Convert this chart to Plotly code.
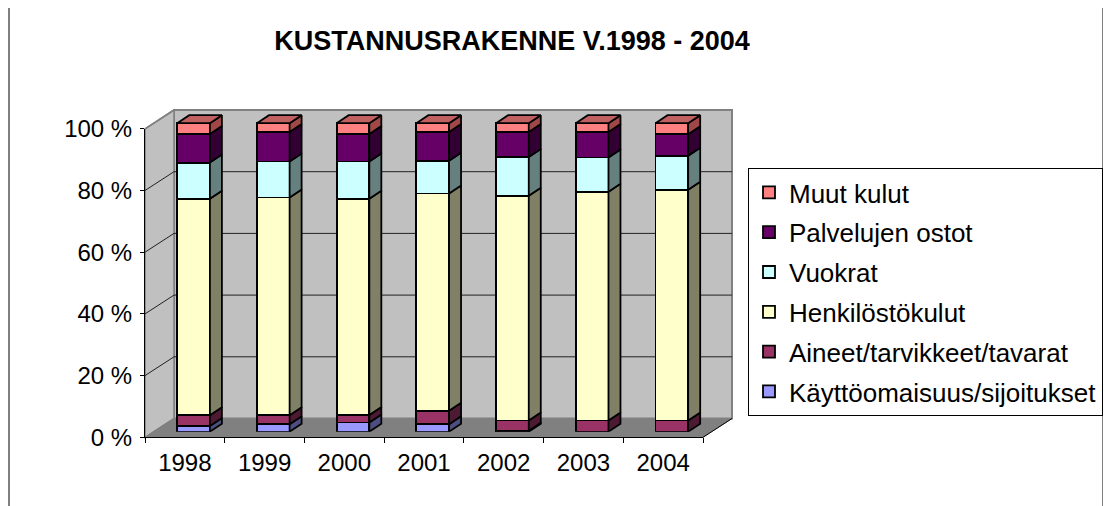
import plotly.graph_objects as go
import numpy as np

# ---------------- data ----------------
years = ["1998", "1999", "2000", "2001", "2002", "2003", "2004"]
kaytto = [1.8, 2.4, 3.0, 2.4, 0.3, 0.0, 0.0]          # Käyttöomaisuus/sijoitukset
aineet = [3.5, 2.9, 2.4, 4.4, 3.3, 3.6, 3.6]          # Aineet/tarvikkeet/tavarat
henk = [70.3, 70.6, 70.1, 70.4, 72.9, 74.2, 74.8]     # Henkilöstökulut
vuokrat = [11.7, 11.7, 12.1, 10.6, 12.5, 11.1, 11.0]  # Vuokrat
palvelut = [9.3, 9.5, 8.9, 9.3, 8.1, 8.2, 7.0]        # Palvelujen ostot
muut = [3.5, 2.9, 3.5, 2.9, 2.9, 2.9, 3.6]            # Muut kulut
y_ticks = [0, 20, 40, 60, 80, 100]

series = [
    ("Käyttöomaisuus/sijoitukset", kaytto, "#9999FF", "#4D4D80"),
    ("Aineet/tarvikkeet/tavarat", aineet, "#993366", "#4D1A33"),
    ("Henkilöstökulut", henk, "#FFFFCC", "#808066"),
    ("Vuokrat", vuokrat, "#CCFFFF", "#668080"),
    ("Palvelujen ostot", palvelut, "#660066", "#330033"),
    ("Muut kulut", muut, "#FF8080", "#A04848"),
]
TOP_FACE = "#C06060"

# ---------------- geometry (screen pixels) ----------------
OFF = 8                      # page body margin
W, H = 1111 - OFF, 506 - OFF
def fx(p): return (p - OFF) / W
def fy(p): return 1 - (p - OFF) / H

FX0, FX1 = 145, 703          # front plane x extent
FY0 = 437.3                  # front plane 0 %
S = 3.085                    # px per percent
DDX, DDY = 29, 18.8          # full depth offset
BX0, BX1 = FX0 + DDX, FX1 + DDX
BY0 = FY0 - DDY
BY100 = BY0 - 100 * S
FY100 = FY0 - 100 * S

bar_off_x, bar_off_y = 0.3 * DDX, 0.3 * DDY
bar_w = 0.41
cat_px = (FX1 - FX0) / len(years)
side_dx = 12 / cat_px
side_dy = 8 / S
ymax_main = 104

font_fam = "Liberation Sans, Arial, sans-serif"

fig = go.Figure()
xpos = np.arange(len(years))

totals = np.sum([np.array(s[1]) for s in series], axis=0)
cum = np.zeros(len(years))
side_traces = []
n = len(series)
for k, (name, vals, col, side) in enumerate(series):
    v = np.array(vals) / totals * 100
    fig.add_trace(go.Bar(
        x=xpos, y=v, name=name, width=bar_w, legendgroup=name,
        legendrank=n - k,
        marker=dict(color=col, line=dict(color="black", width=1.8)),
        xaxis="x", yaxis="y",
    ))
    px_, py_ = [], []
    for i in range(len(years)):
        if v[i] <= 0:
            continue
        b, t = cum[i], cum[i] + v[i]
        xl = xpos[i] + bar_w / 2
        xr = xl + side_dx
        px_ += [xl, xr, xr, xl, xl, None]
        py_ += [b, b + side_dy, t + side_dy, t, b, None]
    side_traces.append(go.Scatter(
        x=px_, y=py_, mode="lines", fill="toself", fillcolor=side,
        line=dict(color="black", width=1.8), showlegend=False,
        hoverinfo="skip", xaxis="x", yaxis="y",
    ))
    cum = cum + v

# top faces
tx, ty = [], []
for i in range(len(years)):
    t = cum[i]
    xl = xpos[i] - bar_w / 2
    xr = xpos[i] + bar_w / 2
    tx += [xl, xl + side_dx, xr + side_dx, xr, xl, None]
    ty += [t, t + side_dy, t + side_dy, t, t, None]
for tr in side_traces:
    fig.add_trace(tr)
fig.add_trace(go.Scatter(
    x=tx, y=ty, mode="lines", fill="toself", fillcolor=TOP_FACE,
    line=dict(color="black", width=1.8), showlegend=False,
    hoverinfo="skip", xaxis="x", yaxis="y",
))

# axis-carrying trace (front plane)
fig.add_trace(go.Scatter(x=years, y=[None] * len(years), xaxis="x2", yaxis="y2",
                         showlegend=False, hoverinfo="skip", mode="markers"))

# ---------------- walls & gridlines ----------------
shapes = []
# outer chart border
shapes.append(dict(type="rect", xref="paper", yref="paper",
                   x0=fx(9), x1=fx(1103), y0=fy(560), y1=fy(2),
                   line=dict(color="black", width=1), layer="below"))
# back wall
shapes.append(dict(type="rect", xref="paper", yref="paper",
                   x0=fx(BX0), x1=fx(BX1), y0=fy(BY0), y1=fy(BY100),
                   fillcolor="#C0C0C0", line=dict(color="#808080", width=2), layer="below"))
# side wall
shapes.append(dict(type="path", xref="paper", yref="paper",
                   path=f"M {fx(FX0)},{fy(FY0)} L {fx(FX0)},{fy(FY100)} L {fx(BX0)},{fy(BY100)} L {fx(BX0)},{fy(BY0)} Z",
                   fillcolor="#C0C0C0", line=dict(color="#808080", width=1.5), layer="below"))
# floor
shapes.append(dict(type="path", xref="paper", yref="paper",
                   path=f"M {fx(FX0)},{fy(FY0)} L {fx(FX1)},{fy(FY0)} L {fx(BX1)},{fy(BY0)} L {fx(BX0)},{fy(BY0)} Z",
                   fillcolor="#808080", line=dict(color="#808080", width=1), layer="below"))
# floor front-right edge
shapes.append(dict(type="line", xref="paper", yref="paper",
                   x0=fx(FX1), y0=fy(FY0), x1=fx(BX1), y1=fy(BY0),
                   line=dict(color="black", width=1), layer="below"))
for v in y_ticks:
    if v in (0, 100):
        continue
    yf = FY0 - v * S
    yb = BY0 - v * S
    shapes.append(dict(type="line", xref="paper", yref="paper",
                       x0=fx(FX0), y0=fy(yf), x1=fx(BX0), y1=fy(yb),
                       line=dict(color="#202020", width=1), layer="below"))
    shapes.append(dict(type="line", xref="paper", yref="paper",
                       x0=fx(BX0), y0=fy(yb), x1=fx(BX1), y1=fy(yb),
                       line=dict(color="#202020", width=1), layer="below"))
# top-left edge of side wall
shapes.append(dict(type="line", xref="paper", yref="paper",
                   x0=fx(FX0), y0=fy(FY100), x1=fx(BX0), y1=fy(BY100),
                   line=dict(color="#808080", width=1.5), layer="below"))

fig.update_layout(
    width=W, height=H,
    margin=dict(l=0, r=0, t=0, b=0, autoexpand=False),
    paper_bgcolor="white", plot_bgcolor="rgba(0,0,0,0)",
    barmode="stack",
    font=dict(family=font_fam, color="black", size=24),
    title=dict(text="<b>KUSTANNUSRAKENNE V.1998 - 2004</b>", x=fx(512), xref="paper",
               xanchor="center", y=fy(41), yref="paper", yanchor="middle",
               font=dict(size=27, family=font_fam, color="black")),
    xaxis=dict(domain=[fx(FX0 + bar_off_x), fx(FX1 + bar_off_x)], range=[-0.5, 6.5],
               showgrid=False, zeroline=False, showticklabels=False, showline=False,
               anchor="y", fixedrange=True),
    yaxis=dict(domain=[fy(FY0 - bar_off_y), fy(FY0 - bar_off_y - ymax_main * S)],
               range=[0, ymax_main], showgrid=False, zeroline=False,
               showticklabels=False, showline=False, anchor="x", fixedrange=True),
    xaxis2=dict(domain=[fx(FX0), fx(FX1)], range=[-0.5, 6.5], type="category",
                categoryorder="array", categoryarray=years, anchor="y2",
                showgrid=False, zeroline=False, showline=True, linecolor="black",
                linewidth=1, ticks="outside", tickson="boundaries", ticklen=5,
                tickcolor="black", tickfont=dict(size=24), ticklabelstandoff=4),
    yaxis2=dict(domain=[fy(FY0), fy(FY100)], range=[0, 100], anchor="x2",
                tickvals=y_ticks, ticktext=[f"{t} %" for t in y_ticks],
                showgrid=False, zeroline=False, showline=True, linecolor="black",
                linewidth=1, ticks="outside", ticklen=4, tickcolor="black",
                tickfont=dict(size=24), ticklabelstandoff=3),
    legend=dict(x=fx(748), y=fy(168), xanchor="left", yanchor="top",
                bgcolor="white", bordercolor="black", borderwidth=1,
                font=dict(size=26, family=font_fam), traceorder="grouped",
                tracegroupgap=3),
    shapes=shapes,
    showlegend=True,
)

fig.write_html("out.html")
